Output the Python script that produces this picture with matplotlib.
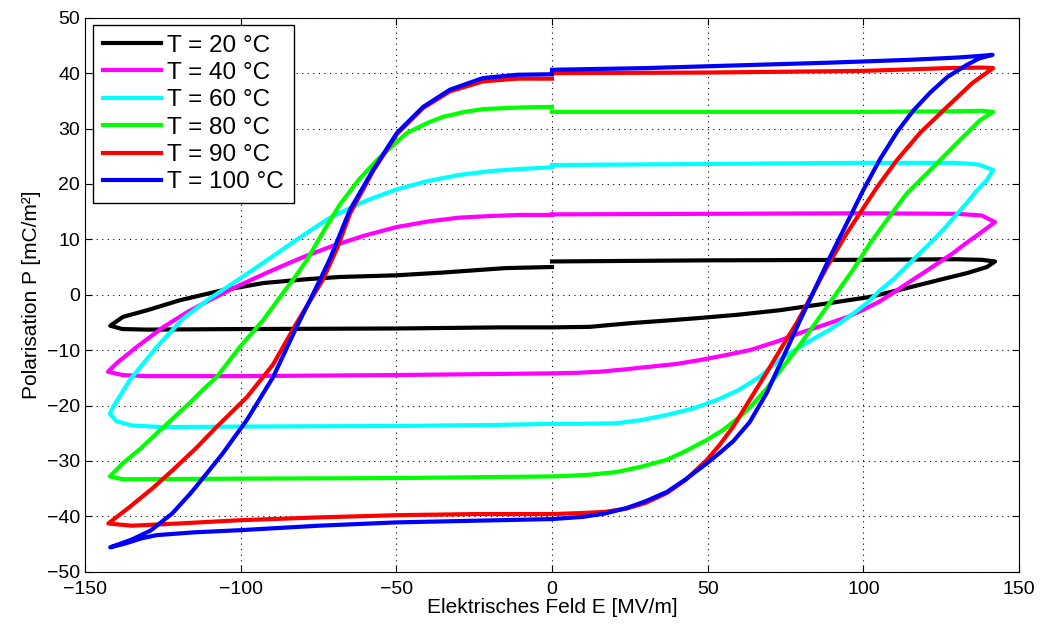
import matplotlib.pyplot as plt

plt.rcParams['font.family'] = ['Liberation Sans', 'DejaVu Sans']

labels = ["T = 20 °C", "T = 40 °C", "T = 60 °C", "T = 80 °C", "T = 90 °C", "T = 100 °C"]
colors = ["#000000", "#ff00ff", "#00ffff", "#00ff00", "#ff0000", "#0000ff"]

# each loop: start at E=0 on upper branch, go to +Emax, down the right branch,
# along the lower branch to -Emax, then up the left branch back to E=0
E_20 = [0, 50, 100, 130, 138, 142.3, 139.7, 133.3, 124.6, 114, 102.2, 89.3, 73.2, 60, 47.5, 36, 26, 18, 12.2, 0,
        -16.7, -50, -100, -130, -138, -141.9, -137.8, -130, -119.5, -106.7, -92.8, -78.7, -68.1, -50, -35, -25, -15, 0]
P_20 = [6.0, 6.2, 6.3, 6.4, 6.3, 6.0, 5.0, 3.9, 2.7, 1.2, -0.4, -1.5, -2.8, -3.6, -4.2, -4.7, -5.1, -5.5, -5.8, -5.9,
        -5.9, -6.1, -6.2, -6.3, -6.2, -5.6, -4.0, -2.8, -1.0, 0.7, 2.1, 2.8, 3.2, 3.5, 4.0, 4.4, 4.8, 5.0]

E_40 = [0, 50, 100, 130, 138, 142.3, 137.5, 133, 128.8, 124, 119.2, 114, 109.5, 105, 100, 95, 89.3, 84, 79.7, 72,
        63.6, 55, 47.5, 40, 31.5, 23, 15.4, 8, 0, -16.7, -50, -100, -130, -138, -142.6,
        -139.7, -133.3, -125, -117, -110, -103, -95, -87, -79, -70, -60, -50, -40, -30, -20, -10, 0]
P_40 = [14.5, 14.6, 14.7, 14.6, 14.3, 13.1, 11.1, 9.3, 7.5, 5.7, 3.9, 2.0, 0.3, -1.3, -2.7, -4.0, -5.1, -6.1, -6.9, -8.5,
        -10.0, -11.0, -11.8, -12.5, -13.0, -13.5, -13.9, -14.1, -14.2, -14.3, -14.5, -14.7, -14.7, -14.5, -13.9,
        -12.3, -9.4, -5.9, -3.1, -1.0, 1.0, 3.1, 5.1, 7.0, 8.9, 10.7, 12.2, 13.2, 13.9, 14.2, 14.4, 14.4]

E_60 = [0, 50, 100, 130, 137, 141.7, 139.7, 136, 133.3, 129.5, 125.6, 122, 118.2, 114, 109.5, 105, 101.2, 97, 92.5,
        89, 85.1, 79.7, 73, 66.8, 60, 53, 45, 36.9, 29, 20.9, 10, 0, -16.7, -50, -100, -125, -135, -140, -142,
        -141, -135.6, -126.9, -118.5, -110, -104, -96, -88, -80, -71, -60, -50, -40, -30, -20, -10, 0]
P_60 = [23.4, 23.6, 23.8, 23.8, 23.5, 22.5, 20.7, 18.5, 16.6, 14.2, 11.7, 9.6, 7.5, 5.2, 2.7, 0.6, -1.5, -3.3, -5.1,
        -6.4, -7.6, -9.4, -11.8, -14.8, -17.2, -19.0, -20.6, -21.7, -22.6, -23.2, -23.3, -23.3, -23.5, -23.7, -23.8,
        -23.9, -23.6, -22.8, -21.5,
        -20.3, -15.4, -9.4, -4.3, -0.7, 1.5, 4.5, 7.6, 10.7, 14.0, 16.9, 19.0, 20.5, 21.6, 22.3, 22.7, 23.0]

E_80 = [0, 50, 100, 130, 138, 141.7, 137.5, 131, 122.4, 114, 107.6, 102.2, 96.7, 90.3, 84, 79.7, 74, 69, 64.5, 60.4,
        55, 49.8, 43, 36.9, 29, 20.9, 12, 4.8, 0, -16.7, -50, -100, -130, -138, -142,
        -137.8, -132, -126.9, -121.5, -116.3, -112, -107.6, -100.2, -92.8, -86.4, -82, -78.7, -73, -68.1, -62, -56.2,
        -51, -46.6, -40, -35, -28, -22.2, -10, 0]
P_80 = [33.0, 33.0, 33.0, 33.1, 33.2, 33.0, 31.5, 27.9, 23.0, 18.3, 13.5, 9.3, 4.5, -0.6, -5.6, -9.0, -13.2, -16.9,
        -19.8, -22.0, -24.4, -26.2, -28.2, -29.8, -31.0, -32.0, -32.5, -32.7, -32.8, -32.9, -33.1, -33.2, -33.3,
        -33.3, -32.8,
        -30.4, -27.7, -25.0, -22.2, -19.5, -17.1, -14.8, -9.4, -4.6, 0.3, 3.6, 6.3, 11.8, 16.3, 20.8, 24.3, 27.0,
        29.2, 31.0, 32.1, 33.0, 33.5, 33.8, 33.9]

E_90 = [0, 50, 100, 127, 138, 141.7, 135, 126.9, 118.2, 110.8, 104.4, 98.9, 94.7, 88.3, 83.8, 78.7, 74, 69, 63.5,
        58.1, 54, 49.8, 43, 36.9, 30, 24, 17, 10, 0, -25, -50, -75, -100, -120, -135, -142.5,
        -135.6, -128, -121.7, -114.5, -107.6, -98, -89.6, -82, -73.6, -69, -64.9, -57.5, -49.8, -41.4, -32.8, -22.2,
        -11.2, 0]
P_90 = [40.0, 40.1, 40.4, 40.9, 41.0, 40.9, 38.2, 33.9, 29.2, 24.3, 19.4, 14.7, 11.1, 5.0, 0.3, -5.0, -9.3, -14.0,
        -19.0, -23.9, -27.0, -29.8, -33.4, -35.8, -37.6, -38.6, -39.2, -39.4, -39.6, -39.6, -39.8, -40.2, -40.7,
        -41.3, -41.7, -41.3,
        -38.3, -34.8, -31.6, -27.8, -23.8, -18.5, -12.6, -5.1, 2.7, 8.4, 14.6, 22.3, 29.0, 33.7, 36.7, 38.5,
        39.0, 39.0]

E_100 = [0, 30, 60, 90, 115, 130, 137.5, 141.5, 137, 133, 127, 121.5, 116, 111, 105.5, 100, 94.7, 89.3, 84, 79.7,
         74.5, 69, 63.5, 58.3, 54, 49.8, 43, 36.9, 30, 24, 17, 10, 0, -25, -50, -75, -100, -115, -127, -132, -137,
         -141.9, -135, -129, -122, -116, -110.5, -105.7, -98, -89.6, -82, -74.5, -71.3, -64.9, -57.5, -49.8, -41.4,
         -32.8, -22.2, -11.2, 0]
P_100 = [40.6, 40.9, 41.4, 41.9, 42.4, 42.8, 43.1, 43.3, 42.6, 41.4, 39.3, 36.5, 33.2, 29.5, 24.6, 18.9, 12.9, 6.8,
         0.5, -4.6, -11.0, -17.7, -23.0, -26.4, -28.5, -30.4, -33.3, -35.6, -37.3, -38.5, -39.5, -40.1, -40.5, -40.8,
         -41.1, -41.7, -42.5, -42.9, -43.4, -44.0, -44.9, -45.6,
         -44.2, -42.6, -39.5, -35.8, -32.0, -28.6, -22.6, -14.9, -5.8, 2.7, 6.5, 15.3, 22.5, 29.2, 33.9, 37.0, 39.1,
         39.7, 39.8]

E_all = [E_20, E_40, E_60, E_80, E_90, E_100]
P_all = [P_20, P_40, P_60, P_80, P_90, P_100]

fig = plt.figure(figsize=(10.42, 6.27), dpi=100)
ax = fig.add_axes([85 / 1042, 1 - 571.7 / 627, (1019 - 85) / 1042, (571.7 - 17.7) / 627])

for E, P, c, lab in zip(E_all, P_all, colors, labels):
    ax.plot(E, P, color=c, lw=3, label=lab, solid_joinstyle='round')

ax.set_xlim(-150, 150)
ax.set_ylim(-50, 50)
ax.set_xticks(range(-150, 151, 50))
ax.set_yticks(range(-50, 51, 10))
ax.tick_params(direction='in', top=True, right=True, labelsize=14, length=5)
ax.tick_params(axis='x', pad=7)
ax.grid(True, color='black', linestyle=(0, (1, 4)), linewidth=0.8)
ax.set_xlabel("Elektrisches Feld E [MV/m]", fontsize=15, labelpad=0)
ax.set_ylabel("Polarisation P [mC/m²]", fontsize=15, labelpad=4)

leg = ax.legend(loc='upper left', bbox_to_anchor=(0.0086, 0.987), borderaxespad=0, fontsize=17.5,
                handlelength=2.4, labelspacing=0.22, fancybox=False, framealpha=1, edgecolor='black',
                handletextpad=0.25, borderpad=0.4)
leg.get_frame().set_linewidth(1.0)

fig.savefig("out.png", dpi=100)
